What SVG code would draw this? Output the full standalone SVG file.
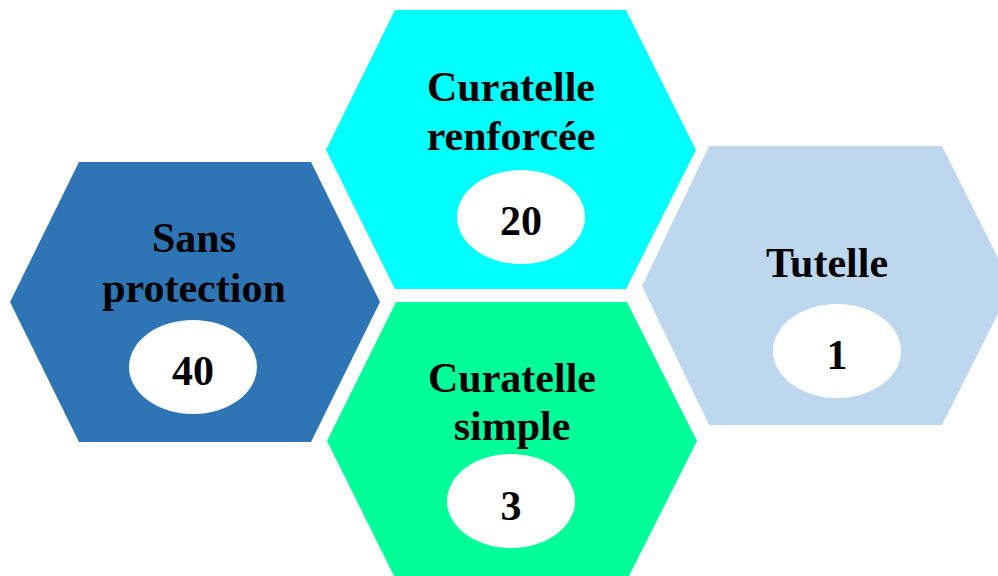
<svg xmlns="http://www.w3.org/2000/svg" width="998" height="576" viewBox="0 0 998 576">
<style>
text{font-family:"Liberation Serif","Times New Roman",serif;font-weight:bold;font-size:42px;fill:#000;text-anchor:middle}
.oval{fill:#fff}
</style>
<rect width="998" height="576" fill="#fff"/>
<g id="sans-protection">
<polygon points="79,162 311,162 380,302 311,442 79,442 10,302" fill="#2E75B6"/>
<text x="194" y="252">Sans</text>
<text x="194" y="302">protection</text>
<ellipse class="oval" cx="193" cy="367" rx="64" ry="47"/>
<text x="193" y="385">40</text>
</g>
<g id="curatelle-renforcee">
<polygon points="395,10 626,10 696,150 626,289 395,289 326,150" fill="#00FFFF"/>
<text x="511" y="101">Curatelle</text>
<text x="511" y="150">renforcée</text>
<ellipse class="oval" cx="521" cy="217" rx="64" ry="47"/>
<text x="521" y="235">20</text>
</g>
<g id="curatelle-simple">
<polygon points="396,302 627,302 697,441 627,580 396,580 327,441" fill="#00FF99"/>
<text x="512" y="392">Curatelle</text>
<text x="512" y="440">simple</text>
<ellipse class="oval" cx="511" cy="501" rx="64" ry="47"/>
<text x="511" y="520">3</text>
</g>
<g id="tutelle">
<polygon points="709,146 942,146 1012,286 942,425 709,425 642,286" fill="#BDD7EE"/>
<text x="827" y="277">Tutelle</text>
<ellipse class="oval" cx="837" cy="351" rx="64" ry="47"/>
<text x="837" y="369">1</text>
</g>
<g id="connectors"/>
</svg>
